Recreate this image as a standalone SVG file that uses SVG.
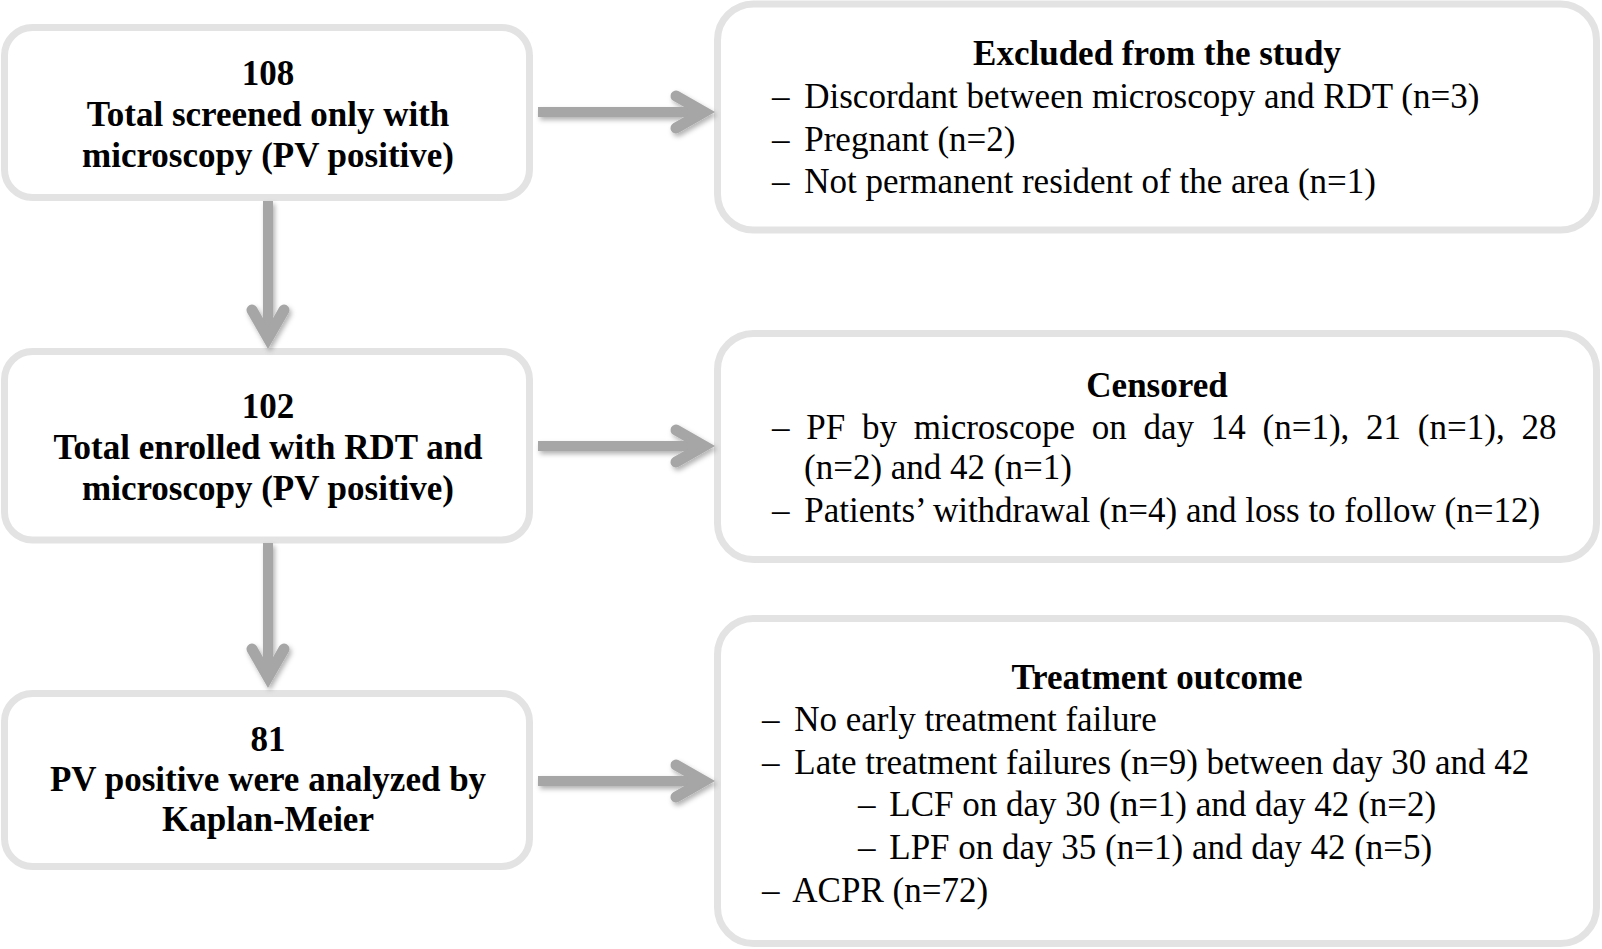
<svg xmlns="http://www.w3.org/2000/svg" width="1602" height="949" viewBox="0 0 1602 949">
<style>
.box{fill:#ffffff;stroke:#e3e3e3;stroke-width:7}
.t{font-family:"Liberation Serif","Times New Roman",serif;font-size:35px;fill:#000}
.b{font-weight:bold;text-anchor:middle}
.shaft{stroke:#a6a6a6;stroke-width:10;fill:none}
.head{stroke:#a6a6a6;stroke-width:11;fill:none;stroke-linecap:round;stroke-linejoin:miter}
</style>
<defs>
<filter id="sh" x="-20%" y="-20%" width="140%" height="140%">
<feDropShadow dx="2" dy="3" stdDeviation="2.5" flood-color="#000" flood-opacity="0.3"/>
</filter>
</defs>
<rect width="1602" height="949" fill="#ffffff"/>

<g id="node-screened">
<rect class="box" x="4.5" y="27.5" width="525" height="170" rx="28"/>
<text class="t b" x="268" y="85">108</text>
<text class="t b" x="268" y="126">Total screened only with</text>
<text class="t b" x="268" y="167">microscopy (PV positive)</text>
</g>

<g id="node-enrolled">
<rect class="box" x="4.5" y="351.5" width="525" height="188.5" rx="28"/>
<text class="t b" x="268" y="418">102</text>
<text class="t b" x="268" y="459">Total enrolled with RDT and</text>
<text class="t b" x="268" y="500">microscopy (PV positive)</text>
</g>

<g id="node-analyzed">
<rect class="box" x="4.5" y="693.5" width="525" height="173" rx="28"/>
<text class="t b" x="268" y="751">81</text>
<text class="t b" x="268" y="791">PV positive were analyzed by</text>
<text class="t b" x="268" y="831">Kaplan-Meier</text>
</g>

<g id="node-excluded">
<rect class="box" x="717.5" y="4" width="879" height="226" rx="36"/>
<text class="t b" x="1157" y="65">Excluded from the study</text>
<text class="t" x="772" y="108">–<tspan dx="6"> Discordant between microscopy and RDT (n=3)</tspan></text>
<text class="t" x="772" y="151">–<tspan dx="6"> Pregnant (n=2)</tspan></text>
<text class="t" x="772" y="193">–<tspan dx="6"> Not permanent resident of the area (n=1)</tspan></text>
</g>

<g id="node-censored">
<rect class="box" x="717.5" y="333.5" width="879" height="226" rx="36"/>
<text class="t b" x="1157" y="397">Censored</text>
<text class="t" x="772" y="439" word-spacing="8">– PF by microscope on day 14 (n=1), 21 (n=1), 28</text>
<text class="t" x="804" y="479">(n=2) and 42 (n=1)</text>
<text class="t" x="772" y="522">–<tspan dx="6"> Patients’ withdrawal (n=4) and loss to follow (n=12)</tspan></text>
</g>

<g id="node-outcome">
<rect class="box" x="717.5" y="618.5" width="879" height="325" rx="36"/>
<text class="t b" x="1157" y="689">Treatment outcome</text>
<text class="t" x="762" y="731">–<tspan dx="6"> No early treatment failure</tspan></text>
<text class="t" x="762" y="774">–<tspan dx="6"> Late treatment failures (n=9) between day 30 and 42</tspan></text>
<text class="t" x="858" y="816">–<tspan dx="5"> LCF on day 30 (n=1) and day 42 (n=2)</tspan></text>
<text class="t" x="858" y="859">–<tspan dx="5"> LPF on day 35 (n=1) and day 42 (n=5)</tspan></text>
<text class="t" x="762" y="902">–<tspan dx="6"> ACPR (n=72)</tspan></text>
</g>

<g id="connectors" filter="url(#sh)">
<line class="shaft" x1="538" y1="112" x2="702" y2="112"/>
<polyline class="head" points="676,96 704,112 676,128"/>
<line class="shaft" x1="538" y1="446" x2="702" y2="446"/>
<polyline class="head" points="676,430 704,446 676,462"/>
<line class="shaft" x1="538" y1="781" x2="702" y2="781"/>
<polyline class="head" points="676,765 704,781 676,797"/>
<line class="shaft" x1="268" y1="201" x2="268" y2="336"/>
<polyline class="head" points="252,310 268,338 284,310"/>
<line class="shaft" x1="268" y1="543" x2="268" y2="675"/>
<polyline class="head" points="252,649 268,677 284,649"/>
</g>
</svg>
